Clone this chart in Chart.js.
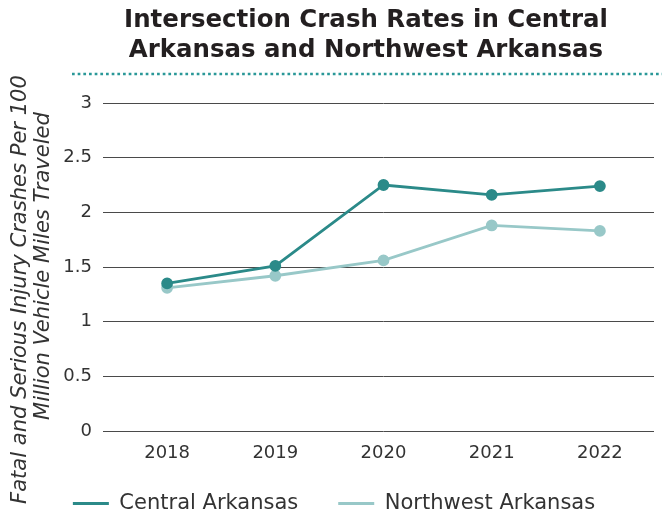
<!DOCTYPE html>
<html>
<head>
<meta charset="utf-8">
<script src="https://cdn.jsdelivr.net/npm/chart.js@4.4.1/dist/chart.umd.min.js"></script>
<style>
  html, body { margin: 0; padding: 0; background: #ffffff; }
  #wrap { width: 664px; height: 518px; position: relative; }
</style>
</head>
<body>
<div id="wrap"><canvas id="c"></canvas></div>
<script>
const categories = ['2018', '2019', '2020', '2021', '2022'];
const centralArkansas = [1.35, 1.51, 2.25, 2.16, 2.24];
const northwestArkansas = [1.31, 1.42, 1.56, 1.88, 1.83];
const yTicks = [0, 0.5, 1, 1.5, 2, 2.5, 3];
const seriesNames = ['Central Arkansas', 'Northwest Arkansas'];
const titleLines = ['Intersection Crash Rates in Central', 'Arkansas and Northwest Arkansas'];
const yTitleLines = ['Fatal and Serious Injury Crashes Per 100', 'Million Vehicle Miles Traveled'];

const FAMILY = "'DejaVu Sans', sans-serif";
const DARK = '#2b8a89';
const LIGHT = '#98c8c8';

function fitSize(ctx, text, targetW, weight, style) {
  ctx.font = style + ' ' + weight + ' 100px ' + FAMILY;
  const w = ctx.measureText(text).width;
  return 100 * targetW / w;
}

const decor = {
  id: 'decor',
  afterLayout(chart) {
    // place the legend row at the reference position
    if (chart.legend) {
      const legendCenterTarget = 504;
      const current = chart.legend.top + 40 + 11;
      const d = current - legendCenterTarget;
      chart.legend.top -= d;
      chart.legend.bottom -= d;
      chart.legend.left += 7;
      chart.legend.right += 7;
    }
  },
  afterDraw(chart) {
    const ctx = chart.ctx;
    ctx.save();
    // Title
    ctx.fillStyle = '#231f20';
    ctx.textAlign = 'center';
    ctx.textBaseline = 'middle';
    const s1 = fitSize(ctx, titleLines[0], 484, 'bold', 'normal');
    ctx.font = 'normal bold ' + s1.toFixed(2) + 'px ' + FAMILY;
    ctx.fillText(titleLines[0], 366, 21);
    ctx.fillText(titleLines[1], 366, 51);
    // Dotted rule
    ctx.strokeStyle = '#2a9898';
    ctx.lineWidth = 2.6;
    ctx.setLineDash([2.7, 2.97]);
    ctx.beginPath();
    ctx.moveTo(72, 74);
    ctx.lineTo(662, 74);
    ctx.stroke();
    ctx.setLineDash([]);
    // Y title
    ctx.fillStyle = '#333333';
    const ys = fitSize(ctx, yTitleLines[0], 429, 'normal', 'italic');
    ctx.font = 'italic normal ' + ys.toFixed(2) + 'px ' + FAMILY;
    ctx.save();
    ctx.translate(21, 289.5);
    ctx.rotate(-Math.PI / 2);
    ctx.fillText(yTitleLines[0], 0, 0);
    ctx.restore();
    ctx.save();
    ctx.translate(44, 266);
    ctx.rotate(-Math.PI / 2);
    ctx.fillText(yTitleLines[1], 0, 0);
    ctx.restore();
    ctx.restore();
  }
};

new Chart(document.getElementById('c'), {
  type: 'line',
  data: {
    labels: categories,
    datasets: [
      {
        label: seriesNames[0],
        data: centralArkansas,
        borderColor: DARK,
        backgroundColor: DARK,
        pointBackgroundColor: DARK,
        pointBorderColor: DARK,
        borderWidth: 2.8,
        pointRadius: 4.5,
        tension: 0
      },
      {
        label: seriesNames[1],
        data: northwestArkansas,
        borderColor: LIGHT,
        backgroundColor: LIGHT,
        pointBackgroundColor: LIGHT,
        pointBorderColor: LIGHT,
        borderWidth: 2.8,
        pointRadius: 4.5,
        tension: 0
      }
    ]
  },
  options: {
    responsive: true,
    maintainAspectRatio: false,
    animation: false,
    layout: { padding: { top: 103, right: 10, left: 0, bottom: -20 } },
    plugins: {
      title: { display: false },
      tooltip: { enabled: false },
      legend: {
        display: true,
        position: 'bottom',
        labels: {
          font: { family: FAMILY, size: 21 },
          color: '#333333',
          boxWidth: 36,
          boxHeight: 3,
          padding: 40,
          generateLabels(chart) {
            return chart.data.datasets.map((d, i) => ({
              text: d.label,
              fillStyle: d.borderColor,
              strokeStyle: d.borderColor,
              lineWidth: 0,
              hidden: false,
              datasetIndex: i,
              fontColor: '#333333'
            }));
          }
        }
      }
    },
    scales: {
      x: {
        type: 'category',
        offset: true,
        grid: { display: false, drawTicks: false },
        border: { display: false },
        afterFit(scale) { scale.height = 36; },
        ticks: {
          font: { family: FAMILY, size: 18 },
          color: '#333333',
          padding: 12,
          maxRotation: 0
        }
      },
      y: {
        min: 0,
        max: 3,
        afterBuildTicks(scale) { scale.ticks = yTicks.map(v => ({ value: v })); },
        afterFit(scale) { scale.width = 113; },
        grid: { color: '#4a4a4a', lineWidth: 1, drawTicks: true, tickLength: 10 },
        border: { display: false },
        ticks: {
          font: { family: FAMILY, size: 18 },
          color: '#333333',
          padding: 11,
          callback: (v) => String(v)
        }
      }
    }
  },
  plugins: [decor]
});
</script>
</body>
</html>
